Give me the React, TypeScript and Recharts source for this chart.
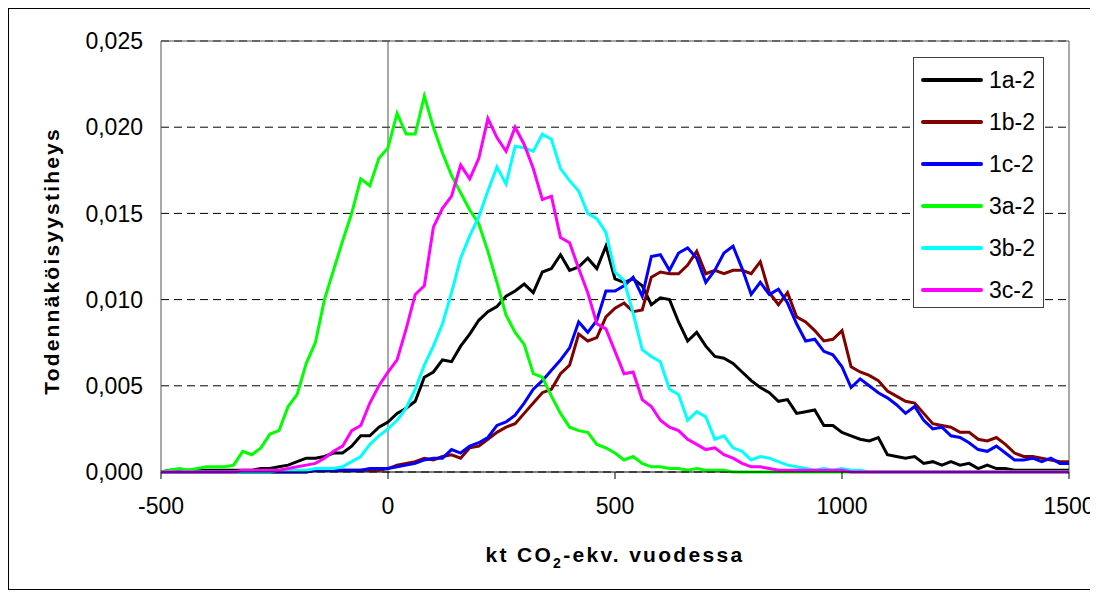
import React from 'react';
import { LineChart, Line, XAxis, YAxis, CartesianGrid, ReferenceLine, Legend } from 'recharts';

const FONT = '"Liberation Sans", Arial, Helvetica, sans-serif';

// x values: -500 .. 1500, step 20 (101 points)
const xValues: number[] = Array.from({ length: 101 }, (_, i) => -500 + i * 20);

const s1a: number[] = [
  0, 0.0001, 0.0001, 0.0001, 0.0001, 0.0001, 0.0001, 0.0001, 0.0001, 0.0001,
  0.0001, 0.0002, 0.0002, 0.0003, 0.0004, 0.0006, 0.0008, 0.0008, 0.0009, 0.0011,
  0.0011, 0.0015, 0.0021, 0.0021, 0.0026, 0.0029, 0.0034, 0.0037, 0.0041, 0.0055,
  0.0058, 0.0065, 0.0064, 0.0073, 0.0080, 0.0088, 0.0093, 0.0096, 0.0102, 0.0105,
  0.0109, 0.0104, 0.0116, 0.0118, 0.0126, 0.0117, 0.0119, 0.0124, 0.0118, 0.0131,
  0.0112, 0.0110, 0.0112, 0.0108, 0.0097, 0.0101, 0.0100, 0.0087, 0.0076, 0.0081,
  0.0073, 0.0067, 0.0066, 0.0063, 0.0058, 0.0053, 0.0049, 0.0046, 0.0041, 0.0042,
  0.0034, 0.0035, 0.0036, 0.0027, 0.0027, 0.0023, 0.0021, 0.0019, 0.0018, 0.0020,
  0.0010, 0.0009, 0.0008, 0.0009, 0.0005, 0.0006, 0.0004, 0.0006, 0.0004, 0.0005,
  0.0002, 0.0004, 0.0002, 0.0002, 0.0001, 0.0001, 0.0001, 0.0001, 0.0001, 0.0001,
  0.0001,
];

const s1b: number[] = [
  0, 0, 0, 0, 0, 0, 0, 0, 0, 0,
  0, 0, 0, 0, 0, 0, 0, 0.0001, 0.0001, 0.0001,
  0.0001, 0.0001, 0.0001, 0.0001, 0.0001, 0.0002, 0.0004, 0.0005, 0.0006, 0.0008,
  0.0007, 0.0009, 0.0010, 0.0008, 0.0014, 0.0015, 0.0019, 0.0023, 0.0026, 0.0028,
  0.0034, 0.0040, 0.0046, 0.0048, 0.0057, 0.0062, 0.0080, 0.0076, 0.0078, 0.0090,
  0.0095, 0.0098, 0.0093, 0.0094, 0.0113, 0.0116, 0.0115, 0.0115, 0.0120, 0.0128,
  0.0115, 0.0117, 0.0115, 0.0117, 0.0117, 0.0115, 0.0122, 0.0104, 0.0097, 0.0104,
  0.0090, 0.0087, 0.0082, 0.0076, 0.0077, 0.0082, 0.0061, 0.0058, 0.0056, 0.0053,
  0.0047, 0.0044, 0.0041, 0.0040, 0.0034, 0.0028, 0.0027, 0.0026, 0.0023, 0.0023,
  0.0019, 0.0018, 0.0020, 0.0016, 0.0011, 0.0009, 0.0009, 0.0008, 0.0007, 0.0006,
  0.0006,
];

const s1c: number[] = [
  0, 0, 0, 0, 0, 0, 0, 0, 0, 0,
  0, 0, 0, 0, 0, 0, 0, 0.0001, 0.0001, 0.0001,
  0.0001, 0.0001, 0.0001, 0.0002, 0.0002, 0.0002, 0.0003, 0.0004, 0.0005, 0.0007,
  0.0008, 0.0008, 0.0013, 0.0011, 0.0015, 0.0017, 0.0020, 0.0027, 0.0029, 0.0033,
  0.0040, 0.0048, 0.0053, 0.0059, 0.0065, 0.0072, 0.0087, 0.0081, 0.0088, 0.0105,
  0.0105, 0.0108, 0.0113, 0.0102, 0.0125, 0.0126, 0.0117, 0.0127, 0.0130, 0.0124,
  0.0110, 0.0117, 0.0127, 0.0131, 0.0118, 0.0103, 0.0110, 0.0103, 0.0106, 0.0098,
  0.0086, 0.0076, 0.0077, 0.0070, 0.0068, 0.0061, 0.0049, 0.0054, 0.0050, 0.0046,
  0.0043, 0.0039, 0.0034, 0.0038, 0.0030, 0.0025, 0.0026, 0.0021, 0.0020, 0.0017,
  0.0013, 0.0012, 0.0015, 0.0011, 0.0007, 0.0007, 0.0008, 0.0006, 0.0008, 0.0005,
  0.0005,
];

const s3a: number[] = [
  0, 0.0001, 0.0002, 0.0001, 0.0002, 0.0003, 0.0003, 0.0003, 0.0004, 0.0012,
  0.0010, 0.0014, 0.0022, 0.0024, 0.0038, 0.0045, 0.0063, 0.0075, 0.0100, 0.0117,
  0.0134, 0.0150, 0.0170, 0.0166, 0.0182, 0.0188, 0.0208, 0.0196, 0.0196, 0.0218,
  0.0200, 0.0185, 0.0172, 0.0162, 0.0152, 0.0144, 0.0128, 0.0110, 0.0091, 0.0081,
  0.0074, 0.0057, 0.0055, 0.0044, 0.0034, 0.0026, 0.0024, 0.0023, 0.0016, 0.0014,
  0.0011, 0.0007, 0.0009, 0.0005, 0.0003, 0.0003, 0.0002, 0.0002, 0.0001, 0.0002,
  0.0001, 0.0001, 0.0001, 0, 0, 0, 0, 0, 0, 0,
  0, 0, 0, 0, 0, 0, 0, 0, 0, 0,
  0, 0, 0, 0, 0, 0, 0, 0, 0, 0,
  0, 0, 0, 0, 0, 0, 0, 0, 0, 0,
  0,
];

const s3b: number[] = [
  0, 0, 0, 0, 0, 0, 0, 0, 0, 0,
  0, 0, 0, 0.0001, 0.0001, 0.0001, 0.0001, 0.0002, 0.0002, 0.0002,
  0.0003, 0.0006, 0.0009, 0.0016, 0.0021, 0.0025, 0.0030, 0.0037, 0.0048, 0.0062,
  0.0073, 0.0086, 0.0104, 0.0124, 0.0137, 0.0148, 0.0163, 0.0177, 0.0167, 0.0189,
  0.0188, 0.0186, 0.0196, 0.0193, 0.0176, 0.0169, 0.0163, 0.0150, 0.0147, 0.0139,
  0.0116, 0.0111, 0.0092, 0.0071, 0.0067, 0.0064, 0.0048, 0.0045, 0.0030, 0.0035,
  0.0032, 0.0019, 0.0021, 0.0014, 0.0012, 0.0007, 0.0009, 0.0008, 0.0006, 0.0004,
  0.0003, 0.0002, 0.0001, 0.0002, 0.0001, 0.0002, 0.0001, 0.0001, 0, 0,
  0, 0, 0, 0, 0, 0, 0, 0, 0, 0,
  0, 0, 0, 0, 0, 0, 0, 0, 0, 0,
  0,
];

const s3c: number[] = [
  0, 0, 0, 0, 0, 0, 0, 0, 0, 0.0001,
  0.0001, 0.0001, 0.0001, 0.0001, 0.0002, 0.0003, 0.0004, 0.0005, 0.0008, 0.0012,
  0.0015, 0.0024, 0.0027, 0.0040, 0.0050, 0.0058, 0.0065, 0.0083, 0.0103, 0.0108,
  0.0142, 0.0153, 0.0160, 0.0178, 0.0170, 0.0182, 0.0205, 0.0194, 0.0186, 0.0200,
  0.0190, 0.0176, 0.0158, 0.0160, 0.0136, 0.0133, 0.0118, 0.0104, 0.0086, 0.0083,
  0.0070, 0.0057, 0.0058, 0.0042, 0.0038, 0.0030, 0.0026, 0.0024, 0.0019, 0.0016,
  0.0013, 0.0014, 0.0010, 0.0008, 0.0005, 0.0003, 0.0003, 0.0002, 0.0001, 0.0001,
  0.0001, 0.0001, 0.0001, 0.0001, 0.0001, 0.0001, 0, 0, 0, 0,
  0, 0, 0, 0, 0, 0, 0, 0, 0, 0,
  0, 0, 0, 0, 0, 0, 0, 0, 0, 0,
  0,
];

const seriesNames: string[] = ['1a-2', '1b-2', '1c-2', '3a-2', '3b-2', '3c-2'];
const seriesColors: string[] = ['#000000', '#800000', '#0000FF', '#00FF00', '#00FFFF', '#FF00FF'];
const seriesValues: number[][] = [s1a, s1b, s1c, s3a, s3b, s3c];

const xTicks: number[] = [-500, 0, 500, 1000, 1500];
const yTicks: number[] = [0, 0.005, 0.01, 0.015, 0.02, 0.025];

const data = xValues.map((x, i) => {
  const row: Record<string, number> = { x };
  seriesNames.forEach((n, k) => {
    row[n] = seriesValues[k][i];
  });
  return row;
});

const fmtY = (v: number) => v.toFixed(3).replace('.', ',');

const XTitle = () => (
  <text
    x={607}
    y={554}
    textAnchor="middle"
    fontFamily={FONT}
    fontSize={21}
    fontWeight="bold"
    letterSpacing={2.3}
    fill="#000"
  >
    kt CO<tspan dy={6} fontSize={14}>2</tspan>
    <tspan dy={-6}>-ekv. vuodessa</tspan>
  </text>
);

const YTitle = () => (
  <text
    x={51}
    y={253}
    transform="rotate(-90, 51, 253)"
    textAnchor="middle"
    fontFamily={FONT}
    fontSize={21}
    fontWeight="bold"
    letterSpacing={2.2}
    fill="#000"
  >
    Todennäköisyystiheys
  </text>
);

const renderLegend = () => (
  <div
    style={{
      width: 131,
      height: 251,
      border: '1px solid #404040',
      background: '#fff',
      boxSizing: 'border-box',
      position: 'relative',
      fontFamily: FONT,
      fontSize: 23,
      color: '#000',
    }}
  >
    {seriesNames.map((n, i) => (
      <div
        key={n}
        style={{
          position: 'absolute',
          left: 6,
          top: 22 + i * 42 - 15,
          height: 30,
          display: 'flex',
          alignItems: 'center',
          whiteSpace: 'nowrap',
        }}
      >
        <svg width={64} height={8} style={{ display: 'block' }}>
          <line x1={3} y1={4} x2={61} y2={4} stroke={seriesColors[i]} strokeWidth={4} strokeLinecap="round" />
        </svg>
        <span style={{ marginLeft: 5, lineHeight: '30px' }}>{n}</span>
      </div>
    ))}
  </div>
);

export default function App() {
  return (
    <div style={{ position: 'relative', width: 1086, height: 582, background: '#fff' }}>
      <LineChart
        width={1086}
        height={582}
        data={data}
        margin={{ top: 33, right: 25, left: 80, bottom: 88 }}
      >
        <CartesianGrid
          vertical={false}
          stroke="#000"
          strokeDasharray="8 5"
          strokeWidth={1}
        />
        <XAxis
          dataKey="x"
          type="number"
          domain={[-500, 1500]}
          ticks={xTicks}
          interval={0}
          height={30}
          tickSize={7}
          tickMargin={19}
          axisLine={{ stroke: '#000', strokeWidth: 1 }}
          tickLine={{ stroke: '#000' }}
          tick={{ fill: '#000', fontSize: 23, fontFamily: FONT }}
          label={{ content: () => <XTitle /> }}
        />
        <YAxis
          type="number"
          domain={[0, 0.025]}
          ticks={yTicks}
          interval={0}
          width={73}
          tickSize={0}
          tickMargin={18}
          tickLine={false}
          axisLine={{ stroke: '#505050', strokeWidth: 1 }}
          tickFormatter={fmtY}
          tick={{ fill: '#000', fontSize: 23, fontFamily: FONT }}
          label={{ content: () => <YTitle /> }}
        />
        <ReferenceLine x={0} stroke="#505050" strokeWidth={1} />
        <ReferenceLine y={0.025} stroke="#505050" strokeWidth={1} />
        <ReferenceLine x={1500} stroke="#505050" strokeWidth={1} />
        {seriesNames.map((n, i) => (
          <Line
            key={n}
            type="linear"
            dataKey={n}
            name={n}
            stroke={seriesColors[i]}
            strokeWidth={3}
            dot={false}
            activeDot={false}
            isAnimationActive={false}
          />
        ))}
        <Legend
          layout="horizontal"
          verticalAlign="middle"
          align="center"
          content={renderLegend}
          wrapperStyle={{ position: 'absolute', left: 905, top: 49, width: 131, height: 251, margin: 0 }}
        />
      </LineChart>
      <div
        style={{
          position: 'absolute',
          left: 0,
          top: 0,
          width: 1086,
          height: 582,
          border: '1px solid #000',
          boxSizing: 'border-box',
          pointerEvents: 'none',
        }}
      />
    </div>
  );
}
